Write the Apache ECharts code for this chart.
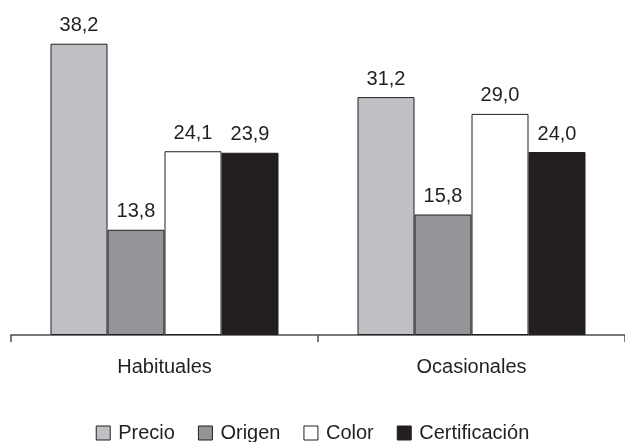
<!DOCTYPE html>
<html>
<head>
<meta charset="utf-8">
<script src="https://cdn.jsdelivr.net/npm/echarts@6/dist/echarts.min.js"></script>
<style>
html,body{margin:0;padding:0;background:#fff;}
#c{width:625px;height:442px;}
</style>
</head>
<body>
<div id="c"></div>
<script>
const categories = ['Habituales', 'Ocasionales'];
const seriesNames = ['Precio', 'Origen', 'Color', 'Certificación'];
const precio = [38.2, 31.2];
const origen = [13.8, 15.8];
const color = [24.1, 29.0];
const certificacion = [23.9, 24.0];
const seriesValues = [precio, origen, color, certificacion];
const fills = ['#bfc0c3', '#939598', '#ffffff', '#231f20'];
const ink = '#231f20';
const font = 'Liberation Sans, Arial, sans-serif';

const chart = echarts.init(document.getElementById('c'), null, {renderer: 'canvas'});
chart.setOption({
  animation: false,
  textStyle: {fontFamily: font},
  grid: {left: 11, top: 30, width: 622, height: 305, containLabel: false},
  legend: {
    data: seriesNames,
    left: 'center',
    top: 423,
    padding: [0, 0, 0, 0],
    itemWidth: 14,
    itemHeight: 14,
    itemGap: 23,
    icon: 'rect',
    textStyle: {fontSize: 20, color: ink, fontFamily: font, padding: [0, 0, 0, 3]},
    itemStyle: {borderColor: ink, borderWidth: 1}
  },
  xAxis: {
    type: 'category',
    data: categories,
    axisLine: {show: true, lineStyle: {color: '#4d4d4f', width: 1.5}},
    axisTick: {show: true, length: 7, lineStyle: {color: '#4d4d4f', width: 1.5}},
    axisLabel: {fontSize: 20, color: ink, margin: 22, fontFamily: font}
  },
  yAxis: {type: 'value', min: 0, max: 40, show: false},
  series: seriesNames.map((n, i) => ({
    name: n,
    type: 'bar',
    data: seriesValues[i],
    barWidth: 57,
    barGap: '0%',
    itemStyle: {color: fills[i], borderColor: ink, borderWidth: 1},
    label: {
      show: true,
      position: 'top',
      distance: 8,
      fontSize: 20,
      color: ink,
      fontFamily: font,
      formatter: p => p.value.toFixed(1).replace('.', ',')
    }
  }))
});
</script>
</body>
</html>
